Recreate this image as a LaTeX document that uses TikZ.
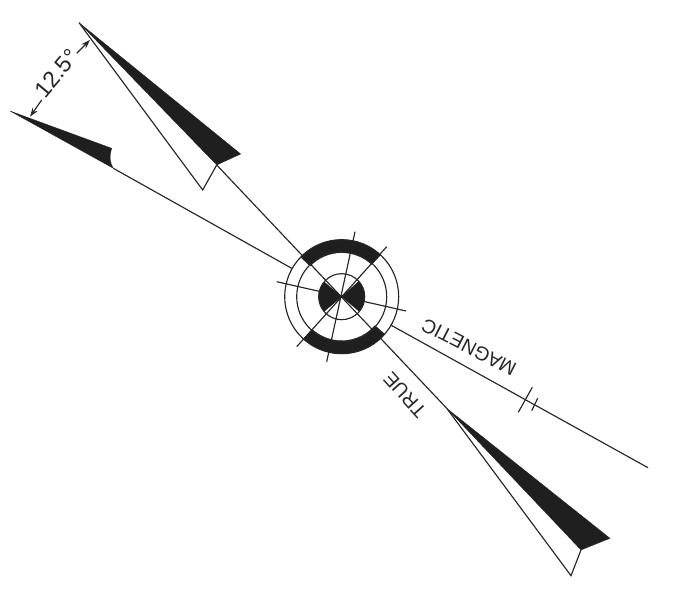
\documentclass[tikz,border=0pt]{standalone}
\usepackage{fontspec}
\setmainfont{Liberation Sans}
\usetikzlibrary{arrows.meta, calc}

\begin{document}
\begin{tikzpicture}[
    x=1pt, y=1pt,
    ln/.style={line width=1.15pt, black!85},
    blk/.style={fill=black!88, draw=black!88, line width=0.3pt, line join=round},
    ring/.style={line width=1.15pt, black!85},
    lbl/.style={inner sep=0pt, font=\fontsize{19.5}{20}\selectfont, text=black!85},
    dim/.style={line width=1.15pt, black!85, -{Stealth[length=9pt, width=6pt]}}
]
\useasboundingbox (0,0) rectangle (696,607);

% points of the two needles
\coordinate (ctr) at (341.7,310.3);
\coordinate (ttip) at (79,584.3);
\coordinate (tbase) at (216.7,442);
\coordinate (tbarb) at (240.7,453);
\coordinate (tback) at (202.7,417);
\coordinate (btip) at (446.7,198.7);
\coordinate (bbase) at (581,57);
\coordinate (bbarb) at (610,68.7);
\coordinate (bback) at (571,31.3);
\coordinate (mtip) at (10,496);
\coordinate (mtop) at (111.7,458.7);
\coordinate (mbase) at (113.3,438.7);
\coordinate (mend) at (648,139.3);
\coordinate (mout) at (291.7,338.7);
\coordinate (min) at (390.7,282);
\coordinate (dima) at (76.7,553.7);
\coordinate (dimb) at (90,567);
\coordinate (dimc) at (41.7,507);
\coordinate (dimd) at (30,490.3);

% needles
\fill[blk] (ttip) -- (tbarb) -- (tbase) -- cycle;
\draw[ln, line join=miter] (ttip) -- (tback) -- (tbase);
\fill[blk] (btip) -- (bbarb) -- (bbase) -- cycle;
\draw[ln, line join=miter] (btip) -- (bback) -- (bbase);
\fill[blk] (mtip) -- (mtop) .. controls (109,450) and (110,444) .. (mbase) -- cycle;

% lines through the rose
\draw[ln] (tbase) -- (btip);
\draw[ln] (mbase) -- (mout);
\draw[ln] (min) -- (mend);
\draw[ln] (355,375.3) -- (326.7,245.3);
\draw[ln] (276.7,325.3) -- (406,296);
\draw[ln] (386.7,360.3) -- (296.7,260.3);

% rose
\begin{scope}[shift={(ctr)}]
\fill[blk] (47:57) arc (47:136:57) -- (136:44) arc (136:47:44) -- cycle;
\fill[blk] (228:57) arc (228:319:57) -- (319:44) arc (319:228:44) -- cycle;
\fill[blk] (0,0) -- (140:23) arc (140:220:23) -- cycle;
\fill[blk] (0,0) -- (-40:23) arc (-40:42:23) -- cycle;
\foreach \r in {23,45,57}
    \draw[ring] (0,0) circle (\r);
\end{scope}

% ticks
\draw[ln] (532.3,219.7) -- (518.3,194.7);
\draw[ln] (537.7,208.7) -- (531.7,196.3);

% labels
\node[lbl, rotate=153] (magn) at (469,260) {MAGNETIC};
\node[lbl, rotate=132] (truelbl) at (405,212) {TRUE};
\node[lbl, rotate=50, font=\fontsize{23}{23}\selectfont] (dimlbl) at (56.7,533.7) {12.5°};
\draw[dim] (dima) -- (dimb);
\draw[dim] (dimc) -- (dimd);

\end{tikzpicture}
\end{document}
